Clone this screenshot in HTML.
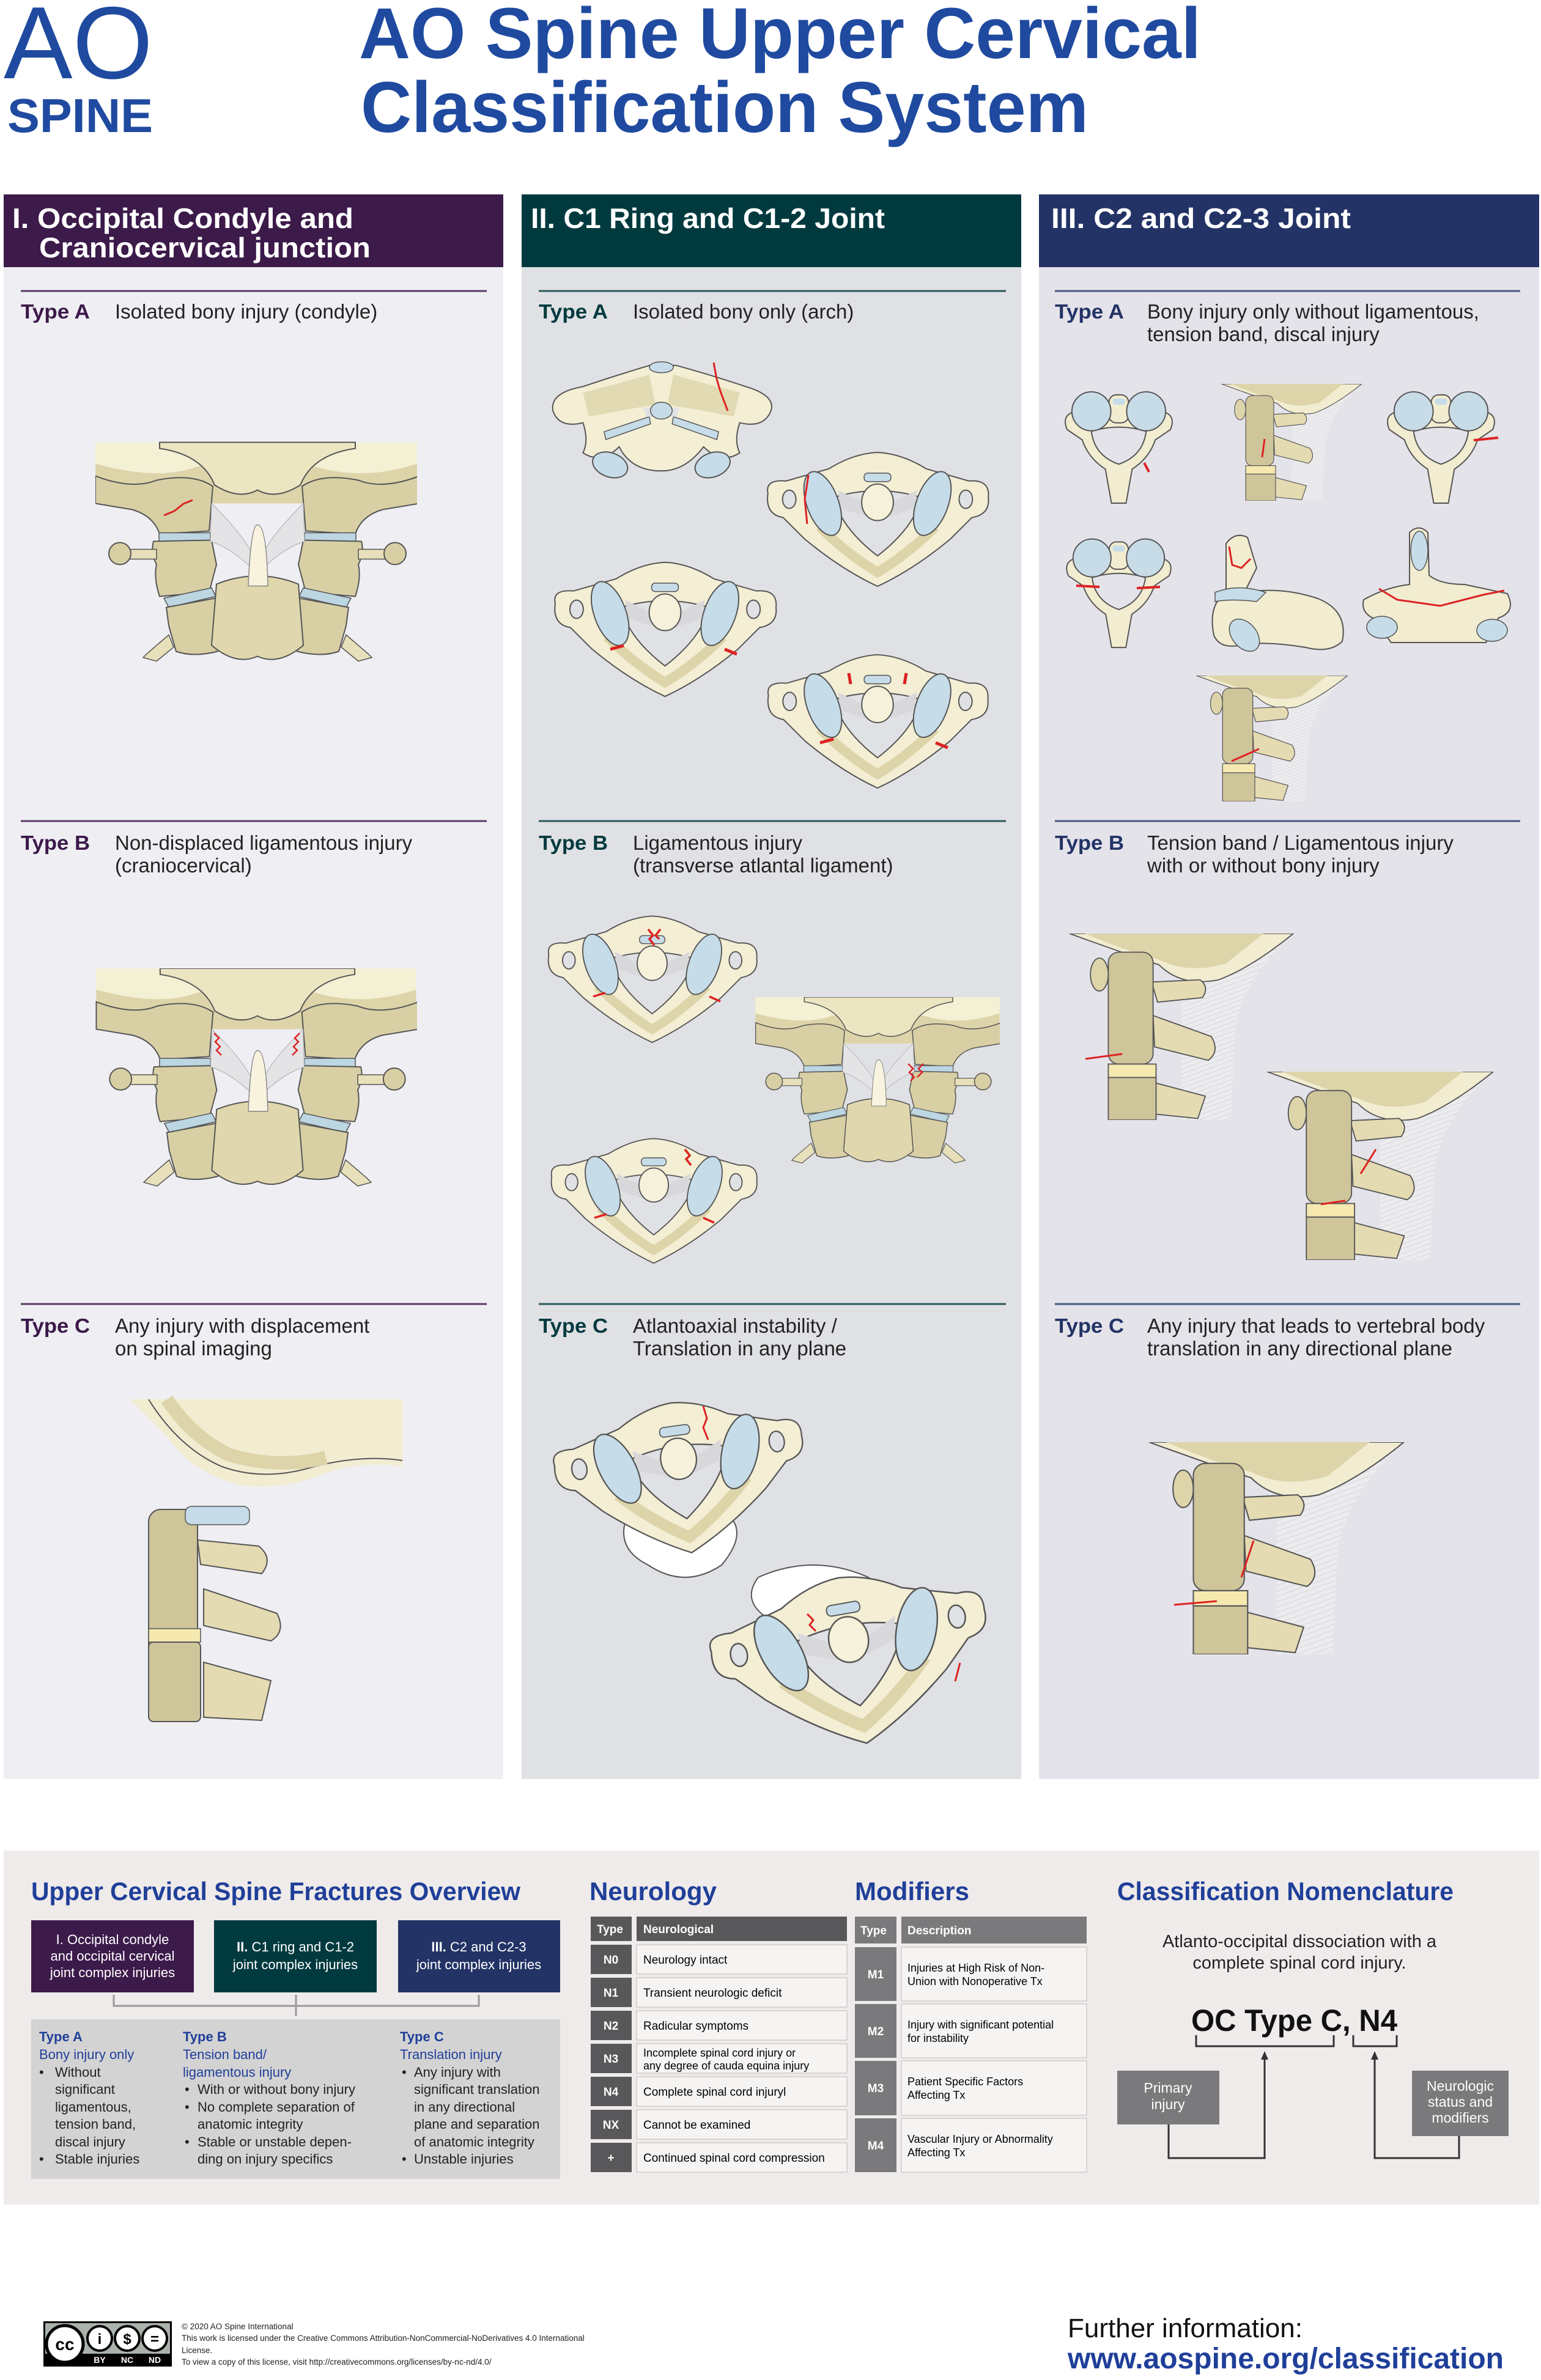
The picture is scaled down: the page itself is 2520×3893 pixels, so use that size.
<!DOCTYPE html>
<html><head><meta charset="utf-8"><style>
html,body{margin:0;padding:0;background:#fff}
svg{display:block}
text{font-family:"Liberation Sans",Arial,sans-serif}
</style></head><body>
<svg width="2520" height="3893" viewBox="0 0 2520 3893" xmlns="http://www.w3.org/2000/svg">
<defs>
<pattern id="hatch" width="6" height="6" patternUnits="userSpaceOnUse" patternTransform="rotate(70)">
<rect width="6" height="6" fill="#ececef"/><line x1="0" y1="0" x2="0" y2="6" stroke="#c9c9cc" stroke-width="1"/>
</pattern>
<!-- C1 ring axial -->
<symbol id="c1" viewBox="0 0 380 230">
<path d="M10 75 Q5 52 40 55 L110 35 Q150 10 190 8 Q230 10 270 35 L340 55 Q375 52 372 82 Q375 110 345 115 L310 150 Q250 200 190 228 Q130 200 70 150 L35 115 Q5 110 10 75Z" fill="#f3eed4" stroke="#555" stroke-width="2"/>
<path d="M95 130 Q140 175 190 205 Q240 175 285 130" fill="none" stroke="#ddd4aa" stroke-width="16"/>
<path d="M118 82 Q190 60 262 82 Q250 132 190 178 Q130 132 118 82Z" fill="#e0e1e4" stroke="#555" stroke-width="2"/>
<ellipse cx="45" cy="85" rx="11" ry="15" fill="#e0e1e4" stroke="#555" stroke-width="2"/>
<ellipse cx="335" cy="85" rx="11" ry="15" fill="#e0e1e4" stroke="#555" stroke-width="2"/>
<ellipse cx="100" cy="92" rx="26" ry="55" transform="rotate(-20 100 92)" fill="#c6dce8" stroke="#555" stroke-width="2"/>
<ellipse cx="280" cy="92" rx="26" ry="55" transform="rotate(20 280 92)" fill="#c6dce8" stroke="#555" stroke-width="2"/>
<path d="M125 70 L175 95 L175 115 L130 100Z M255 70 L205 95 L205 115 L250 100Z" fill="#d8d8db"/>
<ellipse cx="190" cy="90" rx="26" ry="30" fill="#f6f1da" stroke="#555" stroke-width="2"/>
<rect x="168" y="42" width="44" height="14" rx="6" fill="#c6dce8" stroke="#555" stroke-width="1.5"/>
</symbol>
<!-- C1 posterior view -->
<symbol id="c1p" viewBox="0 0 380 210">
<path d="M10 90 Q5 60 60 50 Q120 30 170 15 L215 15 Q270 30 330 50 Q380 65 372 90 Q360 120 320 110 Q310 140 320 160 Q290 180 260 150 Q230 190 190 190 Q140 190 120 150 Q90 180 60 160 Q70 140 60 110 Q20 120 10 90Z" fill="#f3eed4" stroke="#555" stroke-width="2"/>
<path d="M60 60 Q120 45 170 30 L180 80 Q120 90 70 100Z M320 60 Q260 45 210 30 L200 80 Q260 90 310 100Z" fill="#ddd4aa" opacity=".8"/>
<path d="M95 125 L170 100 L172 112 L98 138Z M285 125 L210 100 L208 112 L282 138Z" fill="#c6dce8" stroke="#555" stroke-width="1.5"/>
<path d="M160 85 L220 85 L215 100 L165 100Z" fill="#e0e1e4"/>
<ellipse cx="190" cy="90" rx="18" ry="14" fill="#c6dce8" stroke="#555" stroke-width="1.5"/>
<ellipse cx="190" cy="18" rx="20" ry="9" fill="#c6dce8" stroke="#555" stroke-width="1.5"/>
<ellipse cx="105" cy="180" rx="30" ry="20" transform="rotate(20 105 180)" fill="#c6dce8" stroke="#555" stroke-width="2"/>
<ellipse cx="275" cy="180" rx="30" ry="20" transform="rotate(-20 275 180)" fill="#c6dce8" stroke="#555" stroke-width="2"/>
</symbol>
<!-- Front craniocervical view -->
<symbol id="fr" viewBox="0 0 526 360">
<rect width="526" height="100" fill="#f4f0d4"/>
<path d="M0 35 Q90 60 150 45 Q200 30 230 20 L300 20 Q340 35 380 45 Q450 60 526 35 L526 100 L0 100Z" fill="#ddd4aa"/>
<path d="M105 10 Q175 20 195 70 Q235 95 265 78 Q295 95 335 70 Q355 20 425 10 L425 0 L105 0Z" fill="#ece5c2" stroke="#555" stroke-width="2"/>
<g id="frl">
<path d="M0 55 Q60 78 100 62 Q160 50 192 72 L186 145 L105 150 Q95 120 60 110 L0 100Z" fill="#d8cfa5" stroke="#555" stroke-width="2"/>
<rect x="104" y="148" width="84" height="14" fill="#bcd6e2" stroke="#555" stroke-width="1.5"/>
<path d="M95 162 L190 160 L198 200 L186 245 L105 252 Q95 222 100 200 Q90 180 95 162Z" fill="#d8cfa5" stroke="#555" stroke-width="2"/>
<rect x="40" y="175" width="60" height="16" fill="#e8e0bb" stroke="#555" stroke-width="1.5"/>
<circle cx="40" cy="182" r="18" fill="#d8cfa5" stroke="#555" stroke-width="2"/>
<path d="M112 255 L190 238 L197 252 L120 270Z" fill="#bcd6e2" stroke="#555" stroke-width="1.5"/>
<path d="M116 270 L196 255 L206 322 L200 342 Q160 352 132 342 L120 300Z" fill="#d8cfa5" stroke="#555" stroke-width="2"/>
<path d="M120 315 L85 345 L78 352 L100 358 L128 335Z" fill="#e8e0bb" stroke="#555" stroke-width="1.5"/>
<path d="M190 100 Q240 150 255 180 L255 205 Q220 172 188 162Z" fill="#e4e4e6" stroke="#aaa" stroke-width="1"/>
</g>
<use href="#frl" transform="translate(530 0) scale(-1 1)"/>
<path d="M198 232 Q265 205 332 232 L340 332 Q300 366 265 350 Q230 366 190 332Z" fill="#e0d7ae" stroke="#555" stroke-width="2"/>
<path d="M250 235 Q254 135 265 135 Q280 135 282 235Z" fill="#f7f3de" stroke="#888" stroke-width="1.5"/>
</symbol>
<!-- Lateral view -->
<symbol id="lat" viewBox="0 0 300 250">
<path d="M150 0 L300 0 Q232 60 222 130 L216 250 L150 250Z" fill="url(#hatch)"/>
<path d="M0 0 L300 0 Q245 45 200 62 Q150 72 120 42 Q60 22 0 0Z" fill="#f2ecd0" stroke="#555" stroke-width="1.5"/>
<path d="M20 0 Q80 25 120 35 Q160 55 210 40 L260 0Z" fill="#ddd4aa"/>
<ellipse cx="40" cy="55" rx="12" ry="22" fill="#ddd4aa" stroke="#555" stroke-width="1.5"/>
<path d="M110 65 L175 62 Q188 72 178 86 L118 92Z" fill="#e4dbb3" stroke="#555" stroke-width="1.5"/>
<path d="M112 110 L190 138 Q202 158 186 170 L114 152Z" fill="#e4dbb3" stroke="#555" stroke-width="1.5"/>
<path d="M114 200 L182 218 L172 248 L114 242Z" fill="#e4dbb3" stroke="#555" stroke-width="1.5"/>
<rect x="52" y="25" width="60" height="150" rx="14" fill="#cfc59b" stroke="#555" stroke-width="1.5"/>
<rect x="52" y="175" width="64" height="18" fill="#f5e9b0" stroke="#555" stroke-width="1.5"/>
<rect x="52" y="193" width="64" height="57" fill="#cfc59b" stroke="#555" stroke-width="1.5"/>
</symbol>
<!-- C2 axial -->
<symbol id="ax" viewBox="0 0 200 200">
<path d="M15 75 Q5 50 30 45 L60 40 Q100 22 140 40 L170 45 Q195 50 185 75 L160 92 Q150 122 122 140 L112 196 L88 196 L78 140 Q50 122 40 92Z" fill="#f2ecd0" stroke="#555" stroke-width="2"/>
<path d="M55 78 Q100 64 145 78 Q140 118 100 132 Q60 118 55 78Z" fill="#e4e3ea" stroke="#555" stroke-width="2"/>
<rect x="84" y="18" width="32" height="46" rx="12" fill="#f2ecd0" stroke="#555" stroke-width="2"/>
<rect x="90" y="24" width="20" height="10" rx="4" fill="#c6dce8"/>
<circle cx="55" cy="45" r="32" fill="#c8dce8" stroke="#555" stroke-width="2"/>
<circle cx="145" cy="45" r="32" fill="#c8dce8" stroke="#555" stroke-width="2"/>
</symbol>
</defs>

<!-- ===== HEADER ===== -->
<text x="6" y="128" font-size="168" fill="#1f4aa0" textLength="244" lengthAdjust="spacingAndGlyphs">AO</text>
<text x="12" y="216" font-size="78" font-weight="bold" fill="#1f4aa0" textLength="238" lengthAdjust="spacingAndGlyphs">SPINE</text>
<text x="587" y="95" font-size="118" font-weight="bold" fill="#1f4aa0" textLength="1377" lengthAdjust="spacingAndGlyphs">AO Spine Upper Cervical</text>
<text x="590" y="216" font-size="118" font-weight="bold" fill="#1f4aa0" textLength="1190" lengthAdjust="spacingAndGlyphs">Classification System</text>

<!-- ===== COLUMNS ===== -->
<rect x="6" y="318" width="817" height="119" fill="#3c1a4a"/>
<rect x="853" y="318" width="817" height="119" fill="#003a3f"/>
<rect x="1699" y="318" width="818" height="119" fill="#233366"/>
<rect x="6" y="437" width="817" height="2473" fill="#efeff3"/>
<rect x="853" y="437" width="817" height="2473" fill="#e0e1e4"/>
<rect x="1699" y="437" width="818" height="2473" fill="#e4e3ea"/>

<g fill="#fff" font-weight="bold" font-size="46">
<text x="20" y="373" textLength="558" lengthAdjust="spacingAndGlyphs">I. Occipital Condyle and</text>
<text x="64" y="421" textLength="542" lengthAdjust="spacingAndGlyphs">Craniocervical junction</text>
<text x="868" y="373" textLength="579" lengthAdjust="spacingAndGlyphs">II. C1 Ring and C1-2 Joint</text>
<text x="1719" y="373" textLength="490" lengthAdjust="spacingAndGlyphs">III. C2 and C2-3 Joint</text>
</g>

<!-- separators -->
<g stroke-width="3">
<line x1="34" y1="476" x2="796" y2="476" stroke="#5a3a66"/>
<line x1="34" y1="1343" x2="796" y2="1343" stroke="#5a3a66"/>
<line x1="34" y1="2133" x2="796" y2="2133" stroke="#5a3a66"/>
<line x1="881" y1="476" x2="1645" y2="476" stroke="#2a5a5e"/>
<line x1="881" y1="1343" x2="1645" y2="1343" stroke="#2a5a5e"/>
<line x1="881" y1="2133" x2="1645" y2="2133" stroke="#2a5a5e"/>
<line x1="1725" y1="476" x2="2486" y2="476" stroke="#4a5580"/>
<line x1="1725" y1="1343" x2="2486" y2="1343" stroke="#4a5580"/>
<line x1="1725" y1="2133" x2="2486" y2="2133" stroke="#4a5580"/>
</g>

<g font-size="33" fill="#222">
<text x="34" y="521" font-weight="bold" fill="#3c1a4a" textLength="113" lengthAdjust="spacingAndGlyphs">Type A</text>
<text x="188" y="521">Isolated bony injury (condyle)</text>
<text x="34" y="1390" font-weight="bold" fill="#3c1a4a" textLength="113" lengthAdjust="spacingAndGlyphs">Type B</text>
<text x="188" y="1390">Non-displaced ligamentous injury</text>
<text x="188" y="1427">(craniocervical)</text>
<text x="34" y="2180" font-weight="bold" fill="#3c1a4a" textLength="113" lengthAdjust="spacingAndGlyphs">Type C</text>
<text x="188" y="2180">Any injury with displacement</text>
<text x="188" y="2217">on spinal imaging</text>

<text x="881" y="521" font-weight="bold" fill="#003a3f" textLength="113" lengthAdjust="spacingAndGlyphs">Type A</text>
<text x="1035" y="521">Isolated bony only (arch)</text>
<text x="881" y="1390" font-weight="bold" fill="#003a3f" textLength="113" lengthAdjust="spacingAndGlyphs">Type B</text>
<text x="1035" y="1390">Ligamentous injury</text>
<text x="1035" y="1427">(transverse atlantal ligament)</text>
<text x="881" y="2180" font-weight="bold" fill="#003a3f" textLength="113" lengthAdjust="spacingAndGlyphs">Type C</text>
<text x="1035" y="2180">Atlantoaxial instability /</text>
<text x="1035" y="2217">Translation in any plane</text>

<text x="1725" y="521" font-weight="bold" fill="#233366" textLength="113" lengthAdjust="spacingAndGlyphs">Type A</text>
<text x="1876" y="521">Bony injury only without ligamentous,</text>
<text x="1876" y="558">tension band, discal injury</text>
<text x="1725" y="1390" font-weight="bold" fill="#233366" textLength="113" lengthAdjust="spacingAndGlyphs">Type B</text>
<text x="1876" y="1390">Tension band / Ligamentous injury</text>
<text x="1876" y="1427">with or without bony injury</text>
<text x="1725" y="2180" font-weight="bold" fill="#233366" textLength="113" lengthAdjust="spacingAndGlyphs">Type C</text>
<text x="1876" y="2180">Any injury that leads to vertebral body</text>
<text x="1876" y="2217">translation in any directional plane</text>
</g>

<!-- Column 1 drawings -->
<use href="#fr" x="156" y="722" width="526" height="363"/>
<path d="M268 843 L285 836 L300 824 L315 818" stroke="#d22" stroke-width="3" fill="none"/>
<use href="#fr" x="156" y="1584" width="526" height="358"/>
<path d="M350 1690 l8 8 l-6 6 l8 8 l-6 6 l8 8 M490 1690 l-8 8 l6 6 l-8 8 l6 6 l-8 8" stroke="#d22" stroke-width="2.5" fill="none"/>
<g transform="translate(213 2289)">
<path d="M0 0 L445 0 L445 110 Q380 100 320 120 Q250 150 180 140 Q100 120 60 60Z" fill="#f2ecd0"/>
<path d="M30 0 Q80 80 150 110 Q220 135 300 110 Q380 90 445 100" fill="none" stroke="#555" stroke-width="2"/>
<path d="M60 0 Q100 60 160 90 Q240 115 320 95" fill="none" stroke="#ddd4aa" stroke-width="22"/>
<rect x="30" y="180" width="80" height="300" rx="20" fill="#cfc59b" stroke="#555" stroke-width="2"/>
<rect x="90" y="175" width="105" height="30" rx="10" fill="#c6dce8" stroke="#555" stroke-width="1.5"/>
<path d="M110 230 L210 240 Q235 260 215 285 L115 270Z" fill="#e4dbb3" stroke="#555" stroke-width="2"/>
<path d="M120 310 L240 350 Q255 380 230 395 L120 370Z" fill="#e4dbb3" stroke="#555" stroke-width="2"/>
<path d="M120 430 L230 460 L215 525 L120 520Z" fill="#e4dbb3" stroke="#555" stroke-width="2"/>
<rect x="30" y="375" width="85" height="22" fill="#f5e9b0" stroke="#555" stroke-width="1.5"/>
<rect x="30" y="397" width="85" height="130" rx="8" fill="#cfc59b" stroke="#555" stroke-width="2"/>
</g>

<!-- Column 2 drawings -->
<use href="#c1p" x="893" y="583" width="377" height="207"/>
<path d="M1167 593 L1172 620 L1178 640 L1190 672" stroke="#d22" stroke-width="3" fill="none"/>
<use href="#c1" x="1245" y="732" width="380" height="229"/>
<path d="M1322 777 l-6 40 l4 40" stroke="#d22" stroke-width="3" fill="none"/>
<use href="#c1" x="898" y="906" width="379" height="241"/>
<path d="M998 1062 l22 -6 M1185 1062 l20 8" stroke="#d22" stroke-width="5"/>
<use href="#c1" x="1245" y="1063" width="380" height="228"/>
<path d="M1341 1215 l22 -6 M1530 1215 l20 8 M1388 1101 l3 18 M1482 1101 l-3 18" stroke="#d22" stroke-width="5"/>
<use href="#c1" x="888" y="1480" width="357" height="238"/>
<path d="M970 1630 l20 -6 M1160 1630 l18 8 M1060 1520 l8 10 l-6 6 l8 10 M1080 1520 l-8 10 l6 6" stroke="#d22" stroke-width="3.5" fill="none"/>
<rect x="1235" y="1631" width="400" height="40" fill="#f4f0d4"/>
<use href="#fr" x="1235" y="1631" width="400" height="273"/>
<path d="M1485 1740 l8 8 l-6 6 l8 8 l-6 6 M1510 1740 l-8 8 l6 6 l-8 8" stroke="#d22" stroke-width="2.5" fill="none"/>
<use href="#c1" x="893" y="1842" width="352" height="239"/>
<path d="M972 1992 l20 -6 M1150 1992 l18 8 M1120 1880 l8 10 l-6 6 l8 10" stroke="#d22" stroke-width="3.5" fill="none"/>

<path d="M1030 2470 Q1100 2440 1180 2470 Q1230 2500 1180 2560 Q1120 2600 1060 2560 Q1000 2530 1030 2470Z" fill="#fff" stroke="#555" stroke-width="2"/>
<use href="#c1" x="900" y="2264" width="427" height="300" transform="rotate(-8 1113 2414)"/>
<path d="M1150 2300 l6 20 l-6 15 l8 20" stroke="#d22" stroke-width="3" fill="none"/>
<path d="M1240 2580 Q1330 2540 1420 2580 Q1460 2620 1400 2660 Q1330 2690 1260 2650 Q1210 2620 1240 2580Z" fill="#fff" stroke="#555" stroke-width="2"/>
<use href="#c1" x="1156" y="2557" width="474" height="311" transform="rotate(-10 1393 2712)"/>
<path d="M1320 2640 l10 10 l-6 8 l10 10 M1570 2720 l-8 30" stroke="#d22" stroke-width="3" fill="none"/>

<!-- Column 3 drawings -->
<use href="#ax" x="1729" y="628" width="201" height="199"/>
<path d="M1871 757 l8 15" stroke="#d22" stroke-width="4"/>
<use href="#lat" x="1992" y="628" width="240" height="191"/>
<path d="M2068 718 l-4 30" stroke="#d22" stroke-width="3"/>
<use href="#ax" x="2237" y="628" width="239" height="199"/>
<path d="M2410 720 l40 -4" stroke="#d22" stroke-width="4"/>
<use href="#ax" x="1729" y="869" width="201" height="194"/>
<path d="M1760 958 l38 2 M1897 960 l-38 2" stroke="#d22" stroke-width="4"/>
<g transform="translate(1975 869)">
<path d="M30 20 Q45 0 65 10 L80 60 L60 100 Q120 90 180 110 Q230 130 220 180 Q200 200 160 190 Q100 180 60 185 Q20 195 10 170 Q0 120 30 100Z" fill="#f2ecd0" stroke="#555" stroke-width="2"/>
<path d="M12 100 Q50 85 95 100 L80 115 Q40 110 12 115Z" fill="#c6dce8" stroke="#555" stroke-width="1.5"/>
<ellipse cx="60" cy="170" rx="20" ry="30" transform="rotate(-40 60 170)" fill="#c6dce8" stroke="#555" stroke-width="1.5"/>
<path d="M35 25 L40 55 L55 60 L70 45" stroke="#d22" stroke-width="3" fill="none"/>
</g>
<g transform="translate(2225 861)">
<path d="M80 10 Q95 -5 110 10 L112 80 Q130 95 170 95 L240 110 Q255 140 225 150 L205 190 L50 190 L20 150 Q0 140 5 120 Q40 100 80 95Z" fill="#f2ecd0" stroke="#555" stroke-width="2"/>
<ellipse cx="96" cy="40" rx="14" ry="32" fill="#c6dce8" stroke="#555" stroke-width="1.5"/>
<ellipse cx="35" cy="165" rx="25" ry="18" fill="#c6dce8" stroke="#555" stroke-width="1.5"/>
<ellipse cx="215" cy="170" rx="25" ry="18" fill="#c6dce8" stroke="#555" stroke-width="1.5"/>
<path d="M30 102 L60 120 L130 130 L200 112 L235 105" stroke="#d22" stroke-width="3" fill="none"/>
</g>
<use href="#lat" x="1952" y="1105" width="256" height="206"/>
<path d="M2014 1245 l45 -20" stroke="#d22" stroke-width="3"/>
<use href="#lat" x="1736" y="1527" width="392" height="305"/>
<path d="M1775 1732 l60 -8" stroke="#d22" stroke-width="3"/>
<use href="#lat" x="2066" y="1753" width="382" height="308"/>
<path d="M2160 1970 l40 -6 M2250 1880 l-25 40" stroke="#d22" stroke-width="3"/>
<use href="#lat" x="1843" y="2359" width="489" height="347"/>
<path d="M1920 2625 l70 -6 M2050 2520 l-20 60" stroke="#d22" stroke-width="3"/>

<!-- ===== BOTTOM PANEL ===== -->
<rect x="6" y="3027" width="2511" height="579" fill="#efebea"/>
<g font-weight="bold" fill="#1f3f99" font-size="42">
<text x="51" y="3108" textLength="800" lengthAdjust="spacingAndGlyphs">Upper Cervical Spine Fractures Overview</text>
<text x="964" y="3108" textLength="208" lengthAdjust="spacingAndGlyphs">Neurology</text>
<text x="1398" y="3108" textLength="187" lengthAdjust="spacingAndGlyphs">Modifiers</text>
<text x="1827" y="3108" textLength="550" lengthAdjust="spacingAndGlyphs">Classification Nomenclature</text>
</g>

<rect x="51" y="3141" width="266" height="118" fill="#3c1a4a"/>
<rect x="350" y="3141" width="266" height="118" fill="#003a3f"/>
<rect x="651" y="3141" width="265" height="118" fill="#233366"/>
<g fill="#fff" font-size="22" text-anchor="middle">
<text x="184" y="3180">I. Occipital condyle</text>
<text x="184" y="3207">and occipital cervical</text>
<text x="184" y="3234">joint complex injuries</text>
<text x="483" y="3192"><tspan font-weight="bold">II.</tspan> C1 ring and C1-2</text>
<text x="483" y="3221">joint complex injuries</text>
<text x="783" y="3192"><tspan font-weight="bold">III.</tspan> C2 and C2-3</text>
<text x="783" y="3221">joint complex injuries</text>
</g>
<path d="M186 3263 V3281 H783 V3263 M484 3263 V3298" stroke="#999" stroke-width="3" fill="none"/>
<rect x="51" y="3303" width="865" height="261" fill="#d4d3d3"/>
<g font-size="22" fill="#222">
<text x="64" y="3339" fill="#1f3f99" font-weight="bold">Type A</text>
<text x="64" y="3368" fill="#1f3f99">Bony injury only</text>
<text x="64" y="3397">•</text><text x="90" y="3397">Without</text>
<text x="90" y="3425">significant</text>
<text x="90" y="3454">ligamentous,</text>
<text x="90" y="3482">tension band,</text>
<text x="90" y="3511">discal injury</text>
<text x="64" y="3539">•</text><text x="90" y="3539">Stable injuries</text>

<text x="299" y="3339" fill="#1f3f99" font-weight="bold">Type B</text>
<text x="299" y="3368" fill="#1f3f99">Tension band/</text>
<text x="299" y="3397" fill="#1f3f99">ligamentous injury</text>
<text x="302" y="3425">•</text><text x="323" y="3425">With or without bony injury</text>
<text x="302" y="3454">•</text><text x="323" y="3454">No complete separation of</text>
<text x="323" y="3482">anatomic integrity</text>
<text x="302" y="3511">•</text><text x="323" y="3511">Stable or unstable depen-</text>
<text x="323" y="3539">ding on injury specifics</text>

<text x="654" y="3339" fill="#1f3f99" font-weight="bold">Type C</text>
<text x="654" y="3368" fill="#1f3f99">Translation injury</text>
<text x="657" y="3397">•</text><text x="677" y="3397">Any injury with</text>
<text x="677" y="3425">significant translation</text>
<text x="677" y="3454">in any directional</text>
<text x="677" y="3482">plane and separation</text>
<text x="677" y="3511">of anatomic integrity</text>
<text x="657" y="3539">•</text><text x="677" y="3539">Unstable injuries</text>
</g>

<!-- Neurology table -->
<rect x="966" y="3135" width="67" height="40" fill="#58585a"/>
<rect x="1041" y="3135" width="344" height="40" fill="#58585a"/>
<g fill="#fff" font-size="19" font-weight="bold">
<text x="976" y="3162">Type</text><text x="1052" y="3162">Neurological</text>
</g>
<g font-size="19">
<rect x="966" y="3181" width="67" height="48" fill="#58585a"/><rect x="1041" y="3181" width="344" height="48" fill="#f6f4f3" stroke="#bbb"/>
<text x="999" y="3212" fill="#fff" font-weight="bold" text-anchor="middle">N0</text><text x="1052" y="3212">Neurology intact</text>
<rect x="966" y="3235" width="67" height="48" fill="#58585a"/><rect x="1041" y="3235" width="344" height="48" fill="#f6f4f3" stroke="#bbb"/>
<text x="999" y="3266" fill="#fff" font-weight="bold" text-anchor="middle">N1</text><text x="1052" y="3266">Transient neurologic deficit</text>
<rect x="966" y="3289" width="67" height="48" fill="#58585a"/><rect x="1041" y="3289" width="344" height="48" fill="#f6f4f3" stroke="#bbb"/>
<text x="999" y="3320" fill="#fff" font-weight="bold" text-anchor="middle">N2</text><text x="1052" y="3320">Radicular symptoms</text>
<rect x="966" y="3343" width="67" height="48" fill="#58585a"/><rect x="1041" y="3343" width="344" height="48" fill="#f6f4f3" stroke="#bbb"/>
<text x="999" y="3374" fill="#fff" font-weight="bold" text-anchor="middle">N3</text><text x="1052" y="3364" font-size="18">Incomplete spinal cord injury or</text><text x="1052" y="3385" font-size="18">any degree of cauda equina injury</text>
<rect x="966" y="3397" width="67" height="48" fill="#58585a"/><rect x="1041" y="3397" width="344" height="48" fill="#f6f4f3" stroke="#bbb"/>
<text x="999" y="3428" fill="#fff" font-weight="bold" text-anchor="middle">N4</text><text x="1052" y="3428">Complete spinal cord injuryl</text>
<rect x="966" y="3451" width="67" height="48" fill="#58585a"/><rect x="1041" y="3451" width="344" height="48" fill="#f6f4f3" stroke="#bbb"/>
<text x="999" y="3482" fill="#fff" font-weight="bold" text-anchor="middle">NX</text><text x="1052" y="3482">Cannot be examined</text>
<rect x="966" y="3505" width="67" height="48" fill="#58585a"/><rect x="1041" y="3505" width="344" height="48" fill="#f6f4f3" stroke="#bbb"/>
<text x="999" y="3536" fill="#fff" font-weight="bold" text-anchor="middle">+</text><text x="1052" y="3536">Continued spinal cord compression</text>
</g>

<!-- Modifiers table -->
<rect x="1398" y="3135" width="68" height="44" fill="#7a7a7c"/>
<rect x="1474" y="3135" width="303" height="44" fill="#7a7a7c"/>
<g fill="#fff" font-size="19" font-weight="bold">
<text x="1407" y="3164">Type</text><text x="1484" y="3164">Description</text>
</g>
<g font-size="18">
<rect x="1398" y="3185" width="68" height="88" fill="#7a7a7c"/><rect x="1474" y="3185" width="303" height="88" fill="#f6f4f3" stroke="#bbb"/>
<text x="1432" y="3236" fill="#fff" font-weight="bold" font-size="19" text-anchor="middle">M1</text><text x="1484" y="3225">Injuries at High Risk of Non-</text><text x="1484" y="3247">Union with Nonoperative Tx</text>
<rect x="1398" y="3278" width="68" height="88" fill="#7a7a7c"/><rect x="1474" y="3278" width="303" height="88" fill="#f6f4f3" stroke="#bbb"/>
<text x="1432" y="3329" fill="#fff" font-weight="bold" font-size="19" text-anchor="middle">M2</text><text x="1484" y="3318">Injury with significant potential</text><text x="1484" y="3340">for instability</text>
<rect x="1398" y="3371" width="68" height="89" fill="#7a7a7c"/><rect x="1474" y="3371" width="303" height="89" fill="#f6f4f3" stroke="#bbb"/>
<text x="1432" y="3422" fill="#fff" font-weight="bold" font-size="19" text-anchor="middle">M3</text><text x="1484" y="3411">Patient Specific Factors</text><text x="1484" y="3433">Affecting Tx</text>
<rect x="1398" y="3465" width="68" height="88" fill="#7a7a7c"/><rect x="1474" y="3465" width="303" height="88" fill="#f6f4f3" stroke="#bbb"/>
<text x="1432" y="3516" fill="#fff" font-weight="bold" font-size="19" text-anchor="middle">M4</text><text x="1484" y="3505">Vascular Injury or Abnormality</text><text x="1484" y="3527">Affecting Tx</text>
</g>

<!-- Nomenclature -->
<g font-size="29" fill="#222" text-anchor="middle">
<text x="2125" y="3185">Atlanto-occipital dissociation with a</text>
<text x="2125" y="3220">complete spinal cord injury.</text>
</g>
<text x="1948" y="3322" font-size="50" font-weight="bold" fill="#111" textLength="337" lengthAdjust="spacingAndGlyphs">OC Type C, N4</text>
<path d="M1956 3329 V3347 H2181 V3329 M2213 3329 V3347 H2284 V3329" stroke="#333" stroke-width="3" fill="none"/>
<path d="M1911 3475 V3530 H2068 V3362 M2386 3494 V3530 H2248 V3362" stroke="#333" stroke-width="3" fill="none"/>
<path d="M2068 3355 l-6 14 h12z M2248 3355 l-6 14 h12z" fill="#333"/>
<rect x="1827" y="3387" width="167" height="88" fill="#7a7a7c"/>
<rect x="2309" y="3387" width="158" height="107" fill="#7a7a7c"/>
<g fill="#fff" font-size="23" text-anchor="middle">
<text x="1910" y="3423">Primary</text><text x="1910" y="3450">injury</text>
<text x="2388" y="3420">Neurologic</text><text x="2388" y="3446">status and</text><text x="2388" y="3472">modifiers</text>
</g>

<!-- ===== FOOTER ===== -->
<g transform="translate(71 3797)">
<rect width="210" height="74" fill="#000"/>
<rect x="3" y="3" width="204" height="50" fill="#aab2ab"/>
<circle cx="35" cy="37" r="30" fill="#fff" stroke="#000" stroke-width="5"/>
<text x="35" y="47" font-size="28" font-weight="bold" text-anchor="middle">cc</text>
<circle cx="92" cy="28" r="20" fill="#fff" stroke="#000" stroke-width="4"/>
<text x="92" y="37" font-size="24" font-weight="bold" text-anchor="middle">i</text>
<circle cx="137" cy="28" r="20" fill="#fff" stroke="#000" stroke-width="4"/>
<text x="137" y="37" font-size="24" font-weight="bold" text-anchor="middle">$</text>
<circle cx="182" cy="28" r="20" fill="#fff" stroke="#000" stroke-width="4"/>
<text x="182" y="37" font-size="24" font-weight="bold" text-anchor="middle">=</text>
<g fill="#fff" font-size="14" font-weight="bold" text-anchor="middle">
<text x="92" y="68">BY</text><text x="137" y="68">NC</text><text x="182" y="68">ND</text>
</g>
</g>
<g font-size="13.5" fill="#222">
<text x="297" y="3810">© 2020 AO Spine International</text>
<text x="297" y="3829">This work is licensed under the Creative Commons Attribution-NonCommercial-NoDerivatives 4.0 International</text>
<text x="297" y="3849">License.</text>
<text x="297" y="3868">To view a copy of this license, visit http://creativecommons.org/licenses/by-nc-nd/4.0/</text>
</g>
<text x="1746" y="3823" font-size="44" fill="#111">Further information:</text>
<text x="1746" y="3874" font-size="48" font-weight="bold" fill="#1f3f99" textLength="713" lengthAdjust="spacingAndGlyphs">www.aospine.org/classification</text>
</svg>
</body></html>
